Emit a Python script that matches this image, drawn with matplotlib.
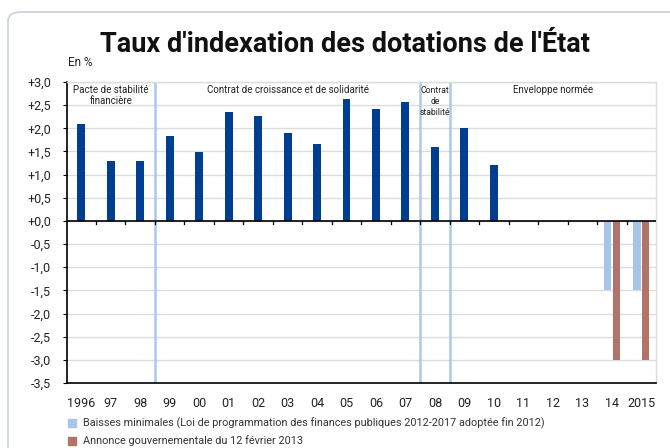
import matplotlib
matplotlib.use("Agg")
import matplotlib.pyplot as plt
from matplotlib.patches import FancyBboxPatch
from matplotlib.ticker import FixedLocator
import numpy as np

years = ["1996", "97", "98", "99", "00", "01", "02", "03", "04", "05",
         "06", "07", "08", "09", "10", "11", "12", "13", "14", "2015"]
indexation = [2.1, 1.29, 1.29, 1.83, 1.48, 2.35, 2.27, 1.89, 1.67, 2.64,
              2.41, 2.56, 1.6, 2.0, 1.2, None, None, None, None, None]
baisses_min = [None] * 18 + [-1.5, -1.5]
annonce = [None] * 18 + [-3.0, -3.0]
ytick_vals = [3.0, 2.5, 2.0, 1.5, 1.0, 0.5, 0.0, -0.5, -1.0, -1.5, -2.0, -2.5, -3.0, -3.5]
ytick_labels = ["+3,0", "+2,5", "+2,0", "+1,5", "+1,0", "+0,5", "+0,0", "-0,5", "-1,0",
                "-1,5", "-2,0", "-2,5", "-3,0", "-3,5"]
periods = ["Pacte de stabilité\nfinancière", "Contrat de croissance et de solidarité",
           "Contrat\nde\nstabilité", "Enveloppe normée"]
period_bounds = [(0, 3), (3, 12), (12, 13), (13, 20)]
legend_labels = ["Baisses minimales (Loi de programmation des finances publiques 2012-2017 adoptée fin 2012)",
                 "Annonce gouvernementale du 12 février 2013"]

DARK = "#003f8f"
LIGHT = "#a5c6e8"
BROWN = "#b1736a"
SEP = "#a9c9ec"
GRID = "#dcdcdc"
TXT = "#222222"

plt.rcParams['font.family'] = ['Roboto', 'DejaVu Sans']

fig = plt.figure(figsize=(6.7, 4.48), dpi=100)

# frame
frame = FancyBboxPatch((8 / 670, -0.3), 1.2, 1 - 12 / 448 + 0.3,
                       boxstyle="round,pad=0,rounding_size=0.02",
                       transform=fig.transFigure, fill=False, ec="#c9d2de", lw=1.2)
fig.patches.append(frame)

fig.text(345 / 670, 1 - 45 / 448, "Taux d'indexation des dotations de l'État", ha="center", va="center",
         fontsize=19.5, fontweight="bold", color="#111111")
fig.text(68 / 670, 1 - 63 / 448, "En %", ha="left", va="center", fontsize=8.5, color=TXT)

ax = fig.add_axes([66.5 / 670, 1 - 383 / 448, (656 - 66.5) / 670, (383 - 82) / 448])
x = np.arange(len(years))

def vals(lst):
    return [np.nan if v is None else v for v in lst]

ax.bar(x, vals(indexation), width=0.27, color=DARK, zorder=3)
ax.bar(x - 0.15, vals(baisses_min), width=0.25, color=LIGHT, zorder=3)
ax.bar(x + 0.15, vals(annonce), width=0.25, color=BROWN, zorder=3)

ax.set_xlim(-0.5, len(years) - 0.5)
ax.set_ylim(-3.5, 3.0)
ax.yaxis.set_major_locator(FixedLocator(ytick_vals))
ax.set_yticklabels(ytick_labels, fontsize=9, color=TXT)
ax.tick_params(axis="y", length=3, width=0.8, direction="out", pad=8)
ax.grid(axis="y", color=GRID, lw=1, zorder=0)

ax.set_xticks(x)
ax.set_xticklabels(years, fontsize=9, color=TXT)
ax.tick_params(axis="x", length=0, pad=10)
for b in np.arange(0.5, len(years) - 0.5, 1.0):
    ax.plot([b, b], [0, -0.07], color="black", lw=0.9, zorder=4, clip_on=False)
ax.axhline(0, color="black", lw=1.2, zorder=4)

for s in ["top", "right"]:
    ax.spines[s].set_color(GRID)
    ax.spines[s].set_linewidth(1)
ax.spines["left"].set_color("black")
ax.spines["bottom"].set_color("black")
ax.spines["left"].set_linewidth(1.2)
ax.spines["bottom"].set_linewidth(1.2)

for (lo, hi), lab in zip(period_bounds, periods):
    if lo > 0:
        ax.axvline(lo - 0.5, color=SEP, lw=1.8, zorder=2)
    cx = (lo + hi - 1) / 2
    small = lab.startswith("Contrat\n")
    if small:
        ax.text(cx, 2.92, lab, ha="center", va="top", fontsize=6.2,
                color=TXT, linespacing=1.3, zorder=5)
    else:
        ax.text(cx, 2.94, lab, ha="center", va="top", fontsize=7,
                color=TXT, linespacing=1.1, zorder=5)

# legend
for i, (lab, col) in enumerate(zip(legend_labels, [LIGHT, BROWN])):
    yy = 1 - (423 + i * 18) / 448
    fig.patches.append(plt.Rectangle((68 / 670, yy - 4 / 448), 8 / 670, 8 / 448,
                                     transform=fig.transFigure, color=col))
    fig.text(83 / 670, yy, lab, ha="left", va="center", fontsize=7.8, color="#333333")

fig.savefig("out.png", dpi=100)
